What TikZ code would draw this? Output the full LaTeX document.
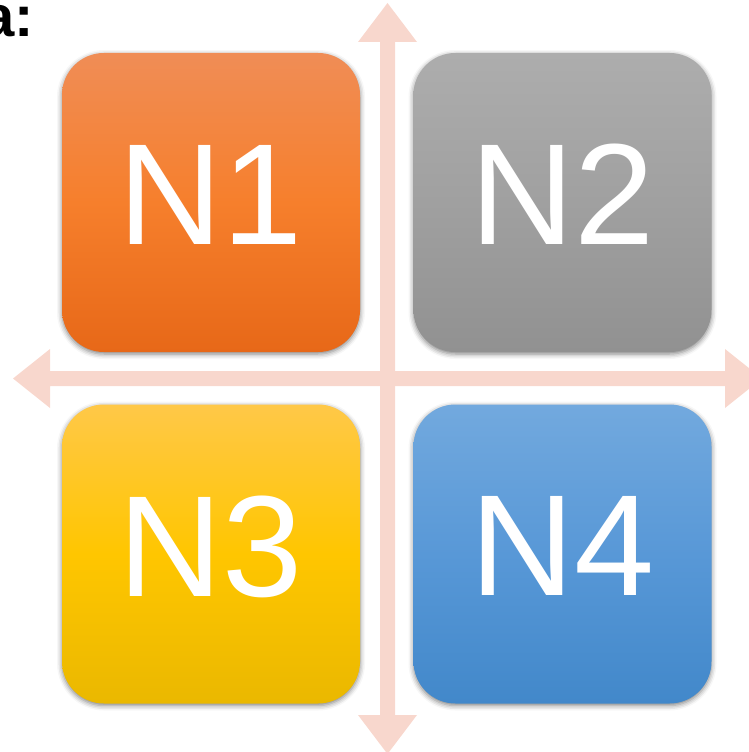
\documentclass[tikz,border=0pt]{standalone}
\usepackage{fontspec}
\setmainfont{Liberation Sans}
\usetikzlibrary{shadows.blur}
\definecolor{arrowpink}{RGB}{248,215,205}
\definecolor{oA}{RGB}{240,141,86}
\definecolor{oB}{RGB}{246,127,44}
\definecolor{oC}{RGB}{231,104,24}
\definecolor{gA}{RGB}{173,173,173}
\definecolor{gB}{RGB}{160,160,160}
\definecolor{gC}{RGB}{145,145,145}
\definecolor{yA}{RGB}{255,200,72}
\definecolor{yB}{RGB}{255,198,0}
\definecolor{yC}{RGB}{234,184,0}
\definecolor{bA}{RGB}{114,169,222}
\definecolor{bB}{RGB}{88,152,215}
\definecolor{bC}{RGB}{66,136,202}
\tikzset{
  quadbox/.style={rounded corners=42pt, minimum width=298pt, minimum height=299pt,
    inner sep=0pt, text=white, font=\fontsize{144}{144}\selectfont,
    blur shadow={shadow xshift=0pt, shadow yshift=-2pt, shadow blur radius=5pt, shadow opacity=50}},
  axisarrow/.style={fill=arrowpink, draw=none}
}
\begin{document}
\begin{tikzpicture}[x=1pt,y=-1pt]
\useasboundingbox (0,0) rectangle (749,752);
% cross arrows
\coordinate (vtop) at (387.5,3);
\coordinate (vbot) at (387.5,754);
\coordinate (hleft) at (13,378.5);
\coordinate (hright) at (762,378.5);
\fill[axisarrow] (vtop) -- (417,42) -- (395,42) -- (395,715) -- (417,715) -- (vbot)
  -- (358,715) -- (380,715) -- (380,42) -- (358,42) -- cycle;
\fill[axisarrow] (hleft) -- (50,349) -- (50,371) -- (725,371) -- (725,349) -- (hright)
  -- (725,408) -- (725,386) -- (50,386) -- (50,408) -- cycle;
% boxes
\node[quadbox, top color=oA, bottom color=oC, middle color=oB] (n1) at (211,202.5) {\raisebox{16pt}{N1}};
\node[quadbox, top color=gA, bottom color=gC, middle color=gB] (n2) at (562.5,202.5) {\raisebox{16pt}{N2}};
\node[quadbox, top color=yA, bottom color=yC, middle color=yB] (n3) at (211,554) {\raisebox{16pt}{N3}};
\node[quadbox, top color=bA, bottom color=bC, middle color=bB] (n4) at (562.5,554) {\raisebox{16pt}{N4}};
% cut-off heading text
\node[anchor=base east, inner sep=0pt, font=\bfseries\fontsize{58}{58}\selectfont] (head) at (34,37) {a:};
\end{tikzpicture}
\end{document}
